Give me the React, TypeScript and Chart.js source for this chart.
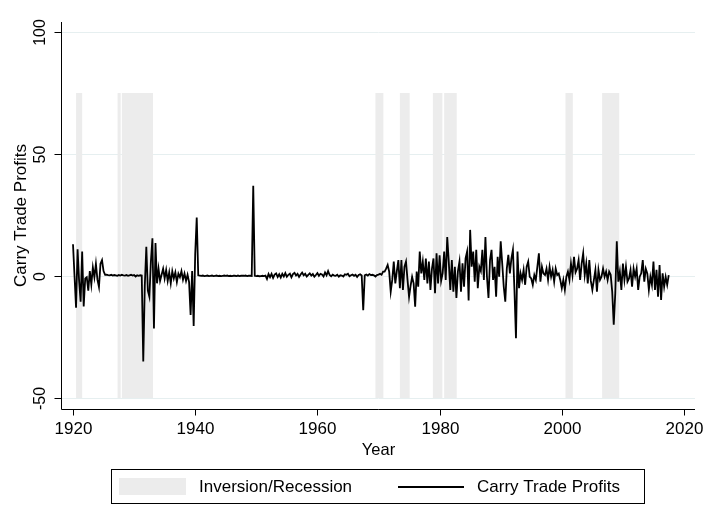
import React, { useEffect, useRef } from "react";
import { Chart, registerables } from "chart.js";

Chart.register(...registerables);

// ---- data ----
const startYear = 1920;
const stepYears = 0.25; // quarterly observations
const profits = [
  // 1920-1929
  13, 0, -13, 11,
  -2, -10.5, 10, -12.5,
  -1, -0.5, -6, 2,
  -3.5, 3.5, -0.5, 5,
  -1.5, -4.5, 5, 6.5,
  2, 0.5, 0.6, 0.4,
  0.3, 0.5, 0.2, 0.4,
  0.3, 0.1, 0.4, 0.2,
  0.5, 0.3, 0.2, 0.4,
  0.1, 0.3, 0.5, 0.2,
  // 1930-1939
  0.4, -0.2, 0.3, 0.1,
  0.3, 0.2, -35, -4,
  12, -6, -8.5, 6,
  15.5, -21.5, 13.5, -3,
  3, -2, 0.5, 3,
  -1, 2.5, -2, 1.5,
  -3, 2, -1, 1.5,
  -2.5, 1, -0.5, 2,
  -1.5, 1, -2, 0.5,
  -2.5, -16, 2, -20.5,
  // 1940-1949
  9, 24, 0.3, 0.2,
  0.1, 0.2, 0, 0.1,
  0.2, 0, 0.1, 0.2,
  0, 0.1, 0.2, 0,
  0.1, 0, 0.1, 0.2,
  0.1, 0.2, 0, 0.1,
  0, 0.1, 0.1, 0,
  0.2, 0, 0.1, 0.1,
  0.1, 0.2, 0, 0.1,
  0.1, 0, 37, 0.1,
  // 1950-1959
  0, 0.1, -0.1, 0,
  0.1, 0, 0.2, -1.2,
  0.8, -0.5, 0.9, -0.8,
  0.6, 1.1, -0.4, 0.7,
  -0.6, 0.9, -0.2, 1.2,
  -0.3, 0.5, 1, -0.5,
  0.8, 1.3, 0.2, 0.9,
  -0.4, 0.6, 1.4, 0.3,
  0.9, -0.2, 0.5, 1.1,
  0.2, 0.8, -0.3, 0.4,
  // 1960-1969
  1.2, 0.1, 0.9, 0.6,
  -0.2, 1.5, 0.3, 2,
  0.4, -0.1, 0.6, 0.2,
  0.1, 0.5, -0.3, 0.3,
  0.2, -0.2, 0.7, 0.5,
  0.9, -0.1, 0.3, 0.6,
  0.1, 0.5, -0.4, 0.4,
  0.7, 0.2, -14, 0.3,
  0.6, 0.2, 0.8, 0.4,
  0.5, 0.3, -0.2, 0.4,
  // 1970-1979
  0.6, 0.9, 0.5, 1.8,
  1.8, 3, 4.5, 1.8,
  -6.4, -1.6, 5.9, -3,
  2, 6.5, -5, 6.5,
  -5.7, 3.8, 5.9, -1.6,
  -8.5, -4, -0.3, -3,
  -12.6, 1.8, -4.4, 10,
  1.1, 5.9, -1.6, 7.2,
  -3, 5.9, -5.7, 3,
  7.2, -7, 9.3, -3,
  // 1980-1989
  8.5, -2, 1.1, 10,
  -1.6, 16, 5.9, -5.7,
  6.5, -6.4, 3.8, -9,
  2, 5.9, -6.4, 5.2,
  -4.4, 7.2, 10, -10,
  18.9, 3.8, 10, -2.3,
  10.7, -5, 3.8, 2,
  10.7, -1.6, 16, -0.3,
  -9, 6.5, 10.7, -1.6,
  3.8, -8.5, 7.9, -0.3,
  // 1990-1999
  14.2, 5.1, -4.4, -10.5,
  3, 8.7, 1.1, 7.1,
  10.7, -5.7, -25.5, 10,
  -5, 1.1, -1.6, 2.5,
  -3.6, 3.8, 5.9, -0.3,
  -1, -3.6, 0.4, -1.6,
  3.8, 9.3, -2.3, 3.8,
  1, 0.4, 3, -1.6,
  3.8, -0.3, 2.5, -2.3,
  3, 0.4, 1, -1.6,
  // 2000-2009
  -5, -1.6, -5.7, -0.3,
  1.8, -1.6, 5.1, 0.4,
  7.9, 1.5, 3, 6.5,
  -1.6, 5.1, 9.3, 0.4,
  5.1, -3, 6.5, -2,
  -5.7, -1.6, 2.5, -6.4,
  2.5, -1.6, -0.3, 3,
  -0.3, 1.8, -1.6, 1.8,
  0.5, -6.4, -20, -7.1,
  14.2, -2.3, 1.8, -5.7,
  // 2010-2017
  5.1, -1.6, 3.8, -2.3,
  -1, 2.5, -4.4, 3,
  -0.3, 3, -5.7, -0.3,
  1.1, 6.5, -2.3, 3,
  1, -5.7, -0.3, -3.6,
  5.9, -5.7, 2.5, -8.5,
  4.5, -9.8, 1.1, -4.4,
  -0.3, -3.6, 0.4,
];

const bandStarts = [1920.5, 1927.3, 1928.0, 1969.5, 1973.5, 1978.9, 1980.75, 2000.6, 2006.6];
const bandEnds = [1921.5, 1927.8, 1933.1, 1970.8, 1975.1, 1980.45, 1982.8, 2001.8, 2009.4];
const bandTop = 75;
const bandBottom = -50;

const xTicks = [1920, 1940, 1960, 1980, 2000, 2020];
const yTicks = [-50, 0, 50, 100];
const xTitle = "Year";
const yTitle = "Carry Trade Profits";
const legendLabels = ["Inversion/Recession", "Carry Trade Profits"];

// ---- styles ----
const FONT = "'Liberation Sans', Arial, Helvetica, sans-serif";
const BAND_COLOR = "#ececec";
const GRID_COLOR = "#e6eff0";

const decorPlugin = {
  id: "decor",
  beforeDatasetsDraw(chart: any) {
    const { ctx, scales } = chart;
    const x = scales.x;
    const y = scales.y;
    ctx.save();
    ctx.fillStyle = BAND_COLOR;
    const yt = y.getPixelForValue(bandTop);
    const yb = y.getPixelForValue(bandBottom);
    for (let i = 0; i < bandStarts.length; i++) {
      const x0 = x.getPixelForValue(bandStarts[i]);
      const x1 = x.getPixelForValue(bandEnds[i]);
      ctx.fillRect(x0, yt, x1 - x0, yb - yt);
    }
    ctx.restore();
  },
  afterDraw(chart: any) {
    const { ctx, scales, chartArea } = chart;
    const x = scales.x;
    const y = scales.y;
    ctx.save();
    ctx.strokeStyle = "#000";
    ctx.lineWidth = 1;
    // axis lines
    const ax = Math.round(chartArea.left) - 0.5;
    const ay = Math.round(chartArea.bottom) + 0.5;
    ctx.beginPath();
    ctx.moveTo(ax, chartArea.top);
    ctx.lineTo(ax, ay);
    ctx.moveTo(ax, ay);
    ctx.lineTo(chartArea.right, ay);
    ctx.stroke();
    // x ticks
    ctx.fillStyle = "#000";
    ctx.font = `17px ${FONT}`;
    ctx.textAlign = "center";
    ctx.textBaseline = "middle";
    for (const t of xTicks) {
      const px = Math.round(x.getPixelForValue(t)) + 0.5;
      ctx.beginPath();
      ctx.moveTo(px, ay);
      ctx.lineTo(px, ay + 6);
      ctx.stroke();
      ctx.fillText(String(t), px, 429);
    }
    // y ticks
    for (const t of yTicks) {
      const py = Math.round(y.getPixelForValue(t)) + 0.5;
      ctx.beginPath();
      ctx.moveTo(ax - 7, py);
      ctx.lineTo(ax, py);
      ctx.stroke();
      ctx.save();
      ctx.translate(41, py);
      ctx.rotate(-Math.PI / 2);
      ctx.font = `16px ${FONT}`;
      ctx.fillText(String(t), 0, 0);
      ctx.restore();
    }
    // titles
    ctx.font = `16.5px ${FONT}`;
    ctx.fillText(xTitle, (chartArea.left + chartArea.right) / 2, 450);
    ctx.save();
    ctx.translate(21, (chartArea.top + chartArea.bottom) / 2);
    ctx.rotate(-Math.PI / 2);
    ctx.font = `17px ${FONT}`;
    ctx.fillText(yTitle, 0, 0);
    ctx.restore();
    // legend
    ctx.strokeRect(111.5, 469.5, 533, 34);
    ctx.fillStyle = BAND_COLOR;
    ctx.fillRect(119, 478, 67, 17);
    ctx.strokeStyle = "#000";
    ctx.lineWidth = 1.8;
    ctx.beginPath();
    ctx.moveTo(398, 487);
    ctx.lineTo(464, 487);
    ctx.stroke();
    ctx.fillStyle = "#000";
    ctx.font = `17px ${FONT}`;
    ctx.textAlign = "left";
    ctx.fillText(legendLabels[0], 199, 487);
    ctx.fillText(legendLabels[1], 477, 487);
    ctx.restore();
  },
};

export default function App() {
  const ref = useRef<HTMLCanvasElement | null>(null);
  useEffect(() => {
    if (!ref.current) return;
    const points = profits.map((v, i) => ({ x: startYear + i * stepYears, y: v }));
    const chart = new Chart(ref.current, {
      type: "line",
      data: {
        datasets: [
          {
            label: legendLabels[1],
            data: points,
            borderColor: "#000",
            borderWidth: 1.8,
            pointRadius: 0,
            tension: 0,
            fill: false,
          },
        ],
      },
      options: {
        responsive: false,
        animation: false,
        layout: { padding: { left: 0, right: 10, top: 22, bottom: 0 } },
        plugins: { legend: { display: false }, tooltip: { enabled: false } },
        scales: {
          x: {
            type: "linear",
            min: 1918.2,
            max: 2021.8,
            ticks: { display: false },
            grid: { display: false },
            border: { display: false },
            afterFit: (s: any) => {
              s.height = 113;
            },
          },
          y: {
            type: "linear",
            min: -54.5,
            max: 104.1,
            ticks: { display: false },
            grid: { color: GRID_COLOR, drawTicks: false, lineWidth: 1 },
            border: { display: false },
            afterBuildTicks: (s: any) => {
              s.ticks = yTicks.map((v) => ({ value: v }));
            },
            afterFit: (s: any) => {
              s.width = 62;
            },
          },
        },
      },
      plugins: [decorPlugin],
    });
    return () => chart.destroy();
  }, []);
  return (
    <div style={{ position: "fixed", left: 0, top: 0, width: 705, height: 522, background: "#fff" }}>
      <canvas ref={ref} width={705} height={522} style={{ display: "block" }} />
    </div>
  );
}
